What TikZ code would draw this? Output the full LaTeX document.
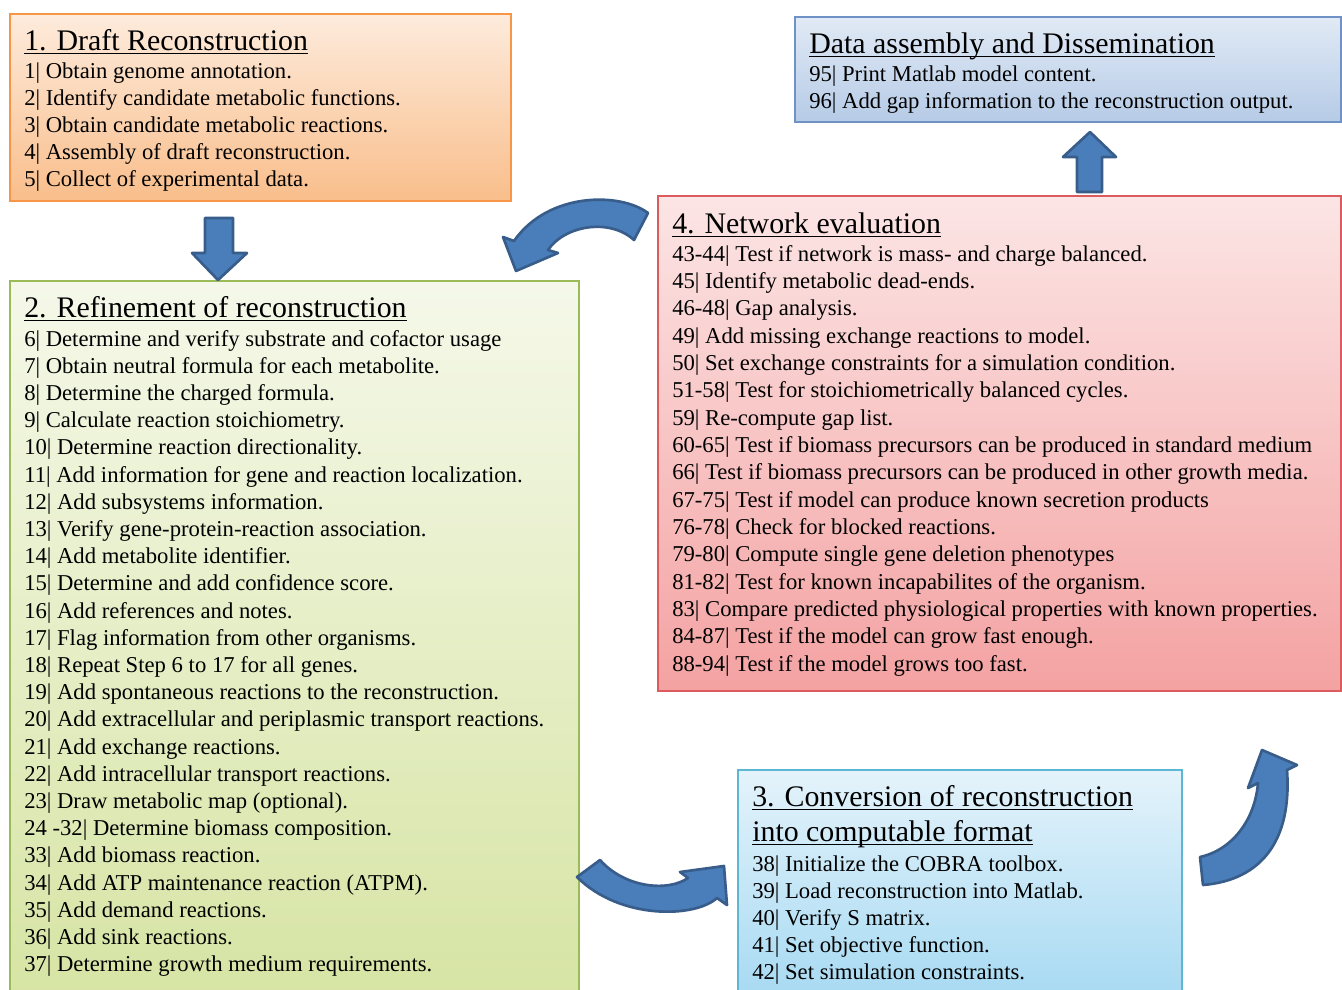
\documentclass[tikz,border=0pt]{standalone}
\usepackage{fontspec}
\setmainfont{Liberation Serif}
\usetikzlibrary{fit}

% panel colours
\definecolor{orTop}{HTML}{FDEBDC}
\definecolor{orBot}{HTML}{F9BE8B}
\definecolor{orLine}{HTML}{F79646}
\definecolor{grTop}{HTML}{F5F8E9}
\definecolor{grBot}{HTML}{D6E4A3}
\definecolor{grLine}{HTML}{9BBB59}
\definecolor{rdTop}{HTML}{FCE5E5}
\definecolor{rdBot}{HTML}{F4A2A2}
\definecolor{rdLine}{HTML}{DC5B5E}
\definecolor{blTop}{HTML}{E1EAF5}
\definecolor{blBot}{HTML}{B6CBE7}
\definecolor{blLine}{HTML}{6E92C6}
\definecolor{cyTop}{HTML}{E4F3FB}
\definecolor{cyBot}{HTML}{A5D9F2}
\definecolor{cyLine}{HTML}{5DB7D3}
\definecolor{arFill}{HTML}{4A7EBB}
\definecolor{arLine}{HTML}{385D8A}

\newcommand{\bodyfont}{\fontsize{17}{20}\selectfont}
\newcommand{\headfont}{\fontsize{22.4}{26}\selectfont}

\begin{document}
\begin{tikzpicture}[x=0.75pt,y=-0.75pt,
  panel/.style n args={3}{draw=#3, line width=1.1pt, top color=#1, bottom color=#2,
    inner sep=0pt},
  stepline/.style={anchor=base west, inner sep=0pt, font=\bodyfont},
  headline/.style={anchor=base west, inner sep=0pt, font=\headfont},
  underbar/.style={line width=0.9pt},
  blockarrow/.style={fill=arFill, draw=arLine, line width=2pt, line join=round}]

\useasboundingbox (0,0) rectangle (1342,989);

% ---------- panels ----------
\node[panel={orTop}{orBot}{orLine}, fit={(10,14) (511,201)}] (p1) {};
\node[panel={grTop}{grBot}{grLine}, fit={(10,281) (579,1005)}] (p2) {};
\node[panel={cyTop}{cyBot}{cyLine}, fit={(738,770) (1182,1005)}] (p3) {};
\node[panel={rdTop}{rdBot}{rdLine}, fit={(658,196) (1341,691)}] (p4) {};
\node[panel={blTop}{blBot}{blLine}, fit={(795,17) (1341,122)}] (p5) {};

% ---------- 1. Draft reconstruction ----------
\node[headline] (h1) at (24,50) {1. Draft Reconstruction};
\draw[underbar] ([yshift=-2.4pt]h1.base west) -- ([yshift=-2.4pt]h1.base east);
\foreach \t [count=\i] in {
  {1| Obtain genome annotation.},
  {2| Identify candidate metabolic functions.},
  {3| Obtain candidate metabolic reactions.},
  {4| Assembly of draft reconstruction.},
  {5| Collect of experimental data.}}
  \node[stepline] (s1-\i) at (24,{78+(\i-1)*27.2}) {\t};

% ---------- 2. Refinement ----------
\node[headline] (h2) at (24,317) {2. Refinement of reconstruction};
\draw[underbar] ([yshift=-2.4pt]h2.base west) -- ([yshift=-2.4pt]h2.base east);
\foreach \t [count=\i] in {
  {6| Determine and verify substrate and cofactor usage},
  {7| Obtain neutral formula for each metabolite.},
  {8| Determine the charged formula.},
  {9| Calculate reaction stoichiometry.},
  {10| Determine reaction directionality.},
  {11| Add information for gene and reaction localization.},
  {12| Add subsystems information.},
  {13| Verify gene-protein-reaction association.},
  {14| Add metabolite identifier.},
  {15| Determine and add confidence score.},
  {16| Add references and notes.},
  {17| Flag information from other organisms.},
  {18| Repeat Step 6 to 17 for all genes.},
  {19| Add spontaneous reactions to the reconstruction.},
  {20| Add extracellular and periplasmic transport reactions.},
  {21| Add exchange reactions.},
  {22| Add intracellular transport reactions.},
  {23| Draw metabolic map (optional).},
  {24 -32| Determine biomass composition.},
  {33| Add biomass reaction.},
  {34| Add ATP maintenance reaction (ATPM).},
  {35| Add demand reactions.},
  {36| Add sink reactions.},
  {37| Determine growth medium requirements.}}
  \node[stepline] (s2-\i) at (24,{346+(\i-1)*27.2}) {\t};

% ---------- 3. Conversion ----------
\node[headline] (h3a) at (752,806) {3. Conversion of reconstruction};
\draw[underbar] ([yshift=-2.4pt]h3a.base west) -- ([yshift=-2.4pt]h3a.base east);
\node[headline] (h3b) at (752,841) {into computable format};
\draw[underbar] ([yshift=-2.4pt]h3b.base west) -- ([yshift=-2.4pt]h3b.base east);
\foreach \t [count=\i] in {
  {38| Initialize the COBRA toolbox.},
  {39| Load reconstruction into Matlab.},
  {40| Verify S matrix.},
  {41| Set objective function.},
  {42| Set simulation constraints.}}
  \node[stepline] (s3-\i) at (752,{871+(\i-1)*27.1}) {\t};

% ---------- 4. Network evaluation ----------
\node[headline] (h4) at (672,233) {4. Network evaluation};
\draw[underbar] ([yshift=-2.4pt]h4.base west) -- ([yshift=-2.4pt]h4.base east);
\foreach \t [count=\i] in {
  {43-44| Test if network is mass- and charge balanced.},
  {45| Identify metabolic dead-ends.},
  {46-48| Gap analysis.},
  {49| Add missing exchange reactions to model.},
  {50| Set exchange constraints for a simulation condition.},
  {51-58| Test for stoichiometrically balanced cycles.},
  {59| Re-compute gap list.},
  {60-65| Test if biomass precursors can be produced in standard medium},
  {66| Test if biomass precursors can be produced in other growth media.},
  {67-75| Test if model can produce known secretion products},
  {76-78| Check for blocked reactions.},
  {79-80| Compute single gene deletion phenotypes},
  {81-82| Test for known incapabilites of the organism.},
  {83| Compare predicted physiological properties with known properties.},
  {84-87| Test if the model can grow fast enough.},
  {88-94| Test if the model grows too fast.}}
  \node[stepline] (s4-\i) at (672,{261+(\i-1)*27.35}) {\t};

% ---------- Data assembly ----------
\node[headline] (h5) at (809,53) {Data assembly and Dissemination};
\draw[underbar] ([yshift=-2.4pt]h5.base west) -- ([yshift=-2.4pt]h5.base east);
\node[stepline] (s5-1) at (809,81) {95| Print Matlab model content.};
\node[stepline] (s5-2) at (809,108) {96| Add gap information to the reconstruction output.};

% ---------- block arrows ----------
% 1 -> 2 (straight, down)
\draw[blockarrow] (205,218) -- (233,218) -- (233,253) -- (247,253) -- (218,280)
  -- (192,253) -- (205,253) -- cycle;
% 2 -> 3 (curved, bottom)
\draw[blockarrow] (600,860) .. controls (625,888) and (668,892) .. (688,878)
  -- (680,872) -- (724,866) -- (727,905) -- (717,898)
  .. controls (695,918) and (620,920) .. (577,877) -- cycle;
% 3 -> 4 (curved, right)
\draw[blockarrow] (1200,857) .. controls (1232,850) and (1255,820) .. (1258,783)
  -- (1248,788) -- (1262,750) -- (1297,765) -- (1287,770)
  .. controls (1292,840) and (1262,880) .. (1203,885) -- cycle;
% 4 -> data (straight, up)
\draw[blockarrow] (1077,192) -- (1077,157) -- (1063,157) -- (1090,132)
  -- (1116,157) -- (1102,157) -- (1102,192) -- cycle;
% 4 -> 2 (curved, top)
\draw[blockarrow] (648,213) .. controls (620,192) and (548,192) .. (514,241)
  -- (503,237) -- (516,271) -- (558,253) -- (548,250)
  .. controls (565,225) and (610,218) .. (634,240) -- cycle;

\end{tikzpicture}
\end{document}
